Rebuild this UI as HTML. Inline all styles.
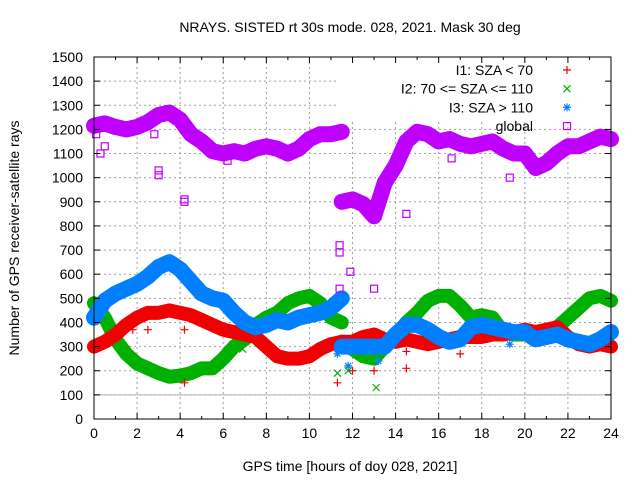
<!DOCTYPE html>
<html><head><meta charset="utf-8"><style>
body{margin:0;background:#fff}
svg{display:block;font-family:"Liberation Sans",sans-serif}
</style></head><body>
<svg id="chart" width="640" height="480" viewBox="0 0 640 480" xmlns="http://www.w3.org/2000/svg">
<rect width="640" height="480" fill="#fff"/>
<text x="350" y="32" font-size="14" text-anchor="middle">NRAYS. SISTED rt 30s mode. 028, 2021. Mask 30 deg</text>
<text transform="translate(19,238) rotate(-90)" font-size="14" text-anchor="middle">Number of GPS receiver-satellite rays</text>
<text x="350" y="471" font-size="14" text-anchor="middle">GPS time [hours of doy 028, 2021]</text>
<g id="grid"></g>
<g id="marks"></g>
<g id="axes"></g>
<g id="legend"></g>
</svg>
<script>
const hours=[0,0.5,1,1.5,2,2.5,3,3.5,4,4.5,5,5.5,6,6.5,7,7.5,8,8.5,9,9.5,10,10.5,11,11.5,12,12.5,13,13.5,14,14.5,15,15.5,16,16.5,17,17.5,18,18.5,19,19.5,20,20.5,21,21.5,22,22.5,23,23.5,24];
const i1Values=[300,320,350,390,420,440,440,450,440,430,410,390,370,360,350,340,300,260,250,250,260,290,310,320,320,340,350,330,320,330,320,310,320,330,340,340,340,350,350,360,370,360,370,380,340,310,300,310,300];
const i2Values=[480,420,330,270,230,210,190,175,180,190,210,210,250,300,330,390,420,440,480,500,510,480,420,310,290,260,250,300,340,400,440,490,510,510,470,420,430,420,360,350,350,350,350,380,420,460,500,510,490];
const i3Values=[420,490,520,540,560,590,630,650,620,570,520,500,490,440,400,380,390,410,400,420,430,440,460,300,300,300,300,300,350,390,390,370,340,320,330,380,390,380,370,360,360,330,340,350,330,320,310,330,360];
const globalValues=[1215,1225,1210,1200,1210,1230,1260,1270,1240,1180,1150,1110,1100,1110,1100,1120,1130,1120,1100,1120,1160,1180,1180,900,910,890,840,980,1050,1150,1190,1180,1150,1160,1140,1130,1140,1150,1120,1100,1100,1040,1060,1100,1130,1130,1150,1170,1160];
const gapIndex=23;
const preGapI1=320, preGapI2=400, preGapI3=500, preGapGlobal=1190;
const i1OutX=[1.8,2.5,4.2,4.2,11.3,12,13,14.5,14.5,17];
const i1OutY=[370,370,370,150,150,200,200,210,280,270];
const i2OutX=[0.1,6.9,11.3,11.8,13.1];
const i2OutY=[480,290,190,200,130];
const i3OutX=[11.3,11.8,13.2,19.3,0.1];
const i3OutY=[270,220,240,310,470];
const gOutX=[0.3,0.5,2.8,3,3,4.2,4.2,11.4,11.4,11.4,11.9,13,13.2,14.5,16.6,19.3,6.2,0.1];
const gOutY=[1100,1130,1180,1030,1010,910,900,720,690,540,610,540,870,850,1080,1000,1070,1180];
const xTicks=[0,2,4,6,8,10,12,14,16,18,20,22,24];
const yTicks=[0,100,200,300,400,500,600,700,800,900,1000,1100,1200,1300,1400,1500];

const X0=94,X1=611,Y0=419,Y1=57;
const sx=h=>X0+(X1-X0)*h/24, sy=v=>Y0-(Y0-Y1)*v/1500;
const NS="http://www.w3.org/2000/svg";
function mk(tag,attrs,parent){const e=document.createElementNS(NS,tag);for(const k in attrs)e.setAttribute(k,attrs[k]);parent.appendChild(e);return e;}
const grid=document.getElementById('grid'),marks=document.getElementById('marks'),axes=document.getElementById('axes'),legend=document.getElementById('legend');
xTicks.forEach(t=>{
  if(t>0&&t<24){const l=mk('line',{x1:sx(t),x2:sx(t),y1:Y0,y2:Y1,stroke:'#a0a0a0','stroke-dasharray':'2,3'},grid);
  
  }
  const tx=mk('text',{x:sx(t),y:Y0+19,'font-size':14,'text-anchor':'middle'},axes);tx.textContent=t;
  
  
  mk('line',{x1:sx(t),x2:sx(t),y1:Y0,y2:Y0-6,stroke:'#000'},axes);
  mk('line',{x1:sx(t),x2:sx(t),y1:Y1,y2:Y1+6,stroke:'#000'},axes);
  if(t<24){mk('line',{x1:sx(t+1),x2:sx(t+1),y1:Y0,y2:Y0-3,stroke:'#000'},axes);mk('line',{x1:sx(t+1),x2:sx(t+1),y1:Y1,y2:Y1+3,stroke:'#000'},axes);}
});
yTicks.forEach(t=>{
  if(t>0&&t<1500){const l=mk('line',{x1:X0,x2:X1,y1:sy(t),y2:sy(t),stroke:'#a0a0a0','stroke-dasharray':'2,3'},grid);
  
  }
  const tx=mk('text',{x:X0-11,y:sy(t)+5,'font-size':14,'text-anchor':'end'},axes);tx.textContent=t;
  
  
  mk('line',{x1:X0,x2:X0+6,y1:sy(t),y2:sy(t),stroke:'#000'},axes);
  mk('line',{x1:X1,x2:X1-6,y1:sy(t),y2:sy(t),stroke:'#000'},axes);
});
mk('rect',{x:336,y:58,width:274,height:63,fill:'#fff'},grid);
const ref=mk('line',{x1:X0,x2:X1,y1:sy(100),y2:sy(100),stroke:'#b0b0b0'},grid);


mk('rect',{x:X0,y:Y1,width:X1-X0,height:Y0-Y1,fill:'none',stroke:'#000'},axes);

function marker(type,x,y,c,p){
  if(type==='plus'){mk('path',{d:`M${x-4} ${y}H${x+4}M${x} ${y-4}V${y+4}`,stroke:c,'stroke-width':1.2,fill:'none'},p);}
  else if(type==='x'){mk('path',{d:`M${x-3.5} ${y-3.5}L${x+3.5} ${y+3.5}M${x-3.5} ${y+3.5}L${x+3.5} ${y-3.5}`,stroke:c,'stroke-width':1.2,fill:'none'},p);}
  else if(type==='star'){mk('path',{d:`M${x-4} ${y}H${x+4}M${x} ${y-4}V${y+4}M${x-3} ${y-3}L${x+3} ${y+3}M${x-3} ${y+3}L${x+3} ${y-3}`,stroke:c,'stroke-width':1.2,fill:'none'},p);}
  else {mk('rect',{x:x-3.5,y:y-3.5,width:7,height:7,stroke:c,'stroke-width':1.2,fill:'none'},p);}
}
function series(name,vals,pre,ox,oy,c,type,w){
  const g=mk('g',{},marks);
  
  
  const p1=[];for(let i=0;i<gapIndex;i++)p1.push(sx(hours[i])+','+sy(vals[i]));
  p1.push(sx(hours[gapIndex])+','+sy(pre));
  const p2=[];for(let i=gapIndex;i<hours.length;i++)p2.push(sx(hours[i])+','+sy(vals[i]));
  [p1,p2].forEach(pts=>mk('polyline',{points:pts.join(' '),fill:'none',stroke:c,'stroke-width':w,'stroke-linejoin':'round','stroke-linecap':'round'},g));
  hours.forEach((h,i)=>marker(type,sx(h),sy(vals[i]),c,g));
  ox.forEach((h,i)=>marker(type,sx(h),sy(oy[i]),c,g));
}
series('series-i2',i2Values,preGapI2,i2OutX,i2OutY,'#00b000','x',14);
series('series-i1',i1Values,preGapI1,i1OutX,i1OutY,'#f00000','plus',14);
series('series-i3',i3Values,preGapI3,i3OutX,i3OutY,'#0080ff','star',16);
series('series-global',globalValues,preGapGlobal,gOutX,gOutY,'#c000ff','square',16);

const leg=[['I1: SZA < 70','#f00000','plus'],['I2: 70 <= SZA <= 110','#00b000','x'],['I3: SZA > 110','#0080ff','star'],['global','#c000ff','square']];
leg.forEach((l,i)=>{
  const y=70+i*18.7;
  const t=mk('text',{x:533,y:y+5,'font-size':14,'text-anchor':'end'},legend);t.textContent=l[0];
  
  
  marker(l[2],567,y,l[1],legend);
});
</script>
</body></html>
